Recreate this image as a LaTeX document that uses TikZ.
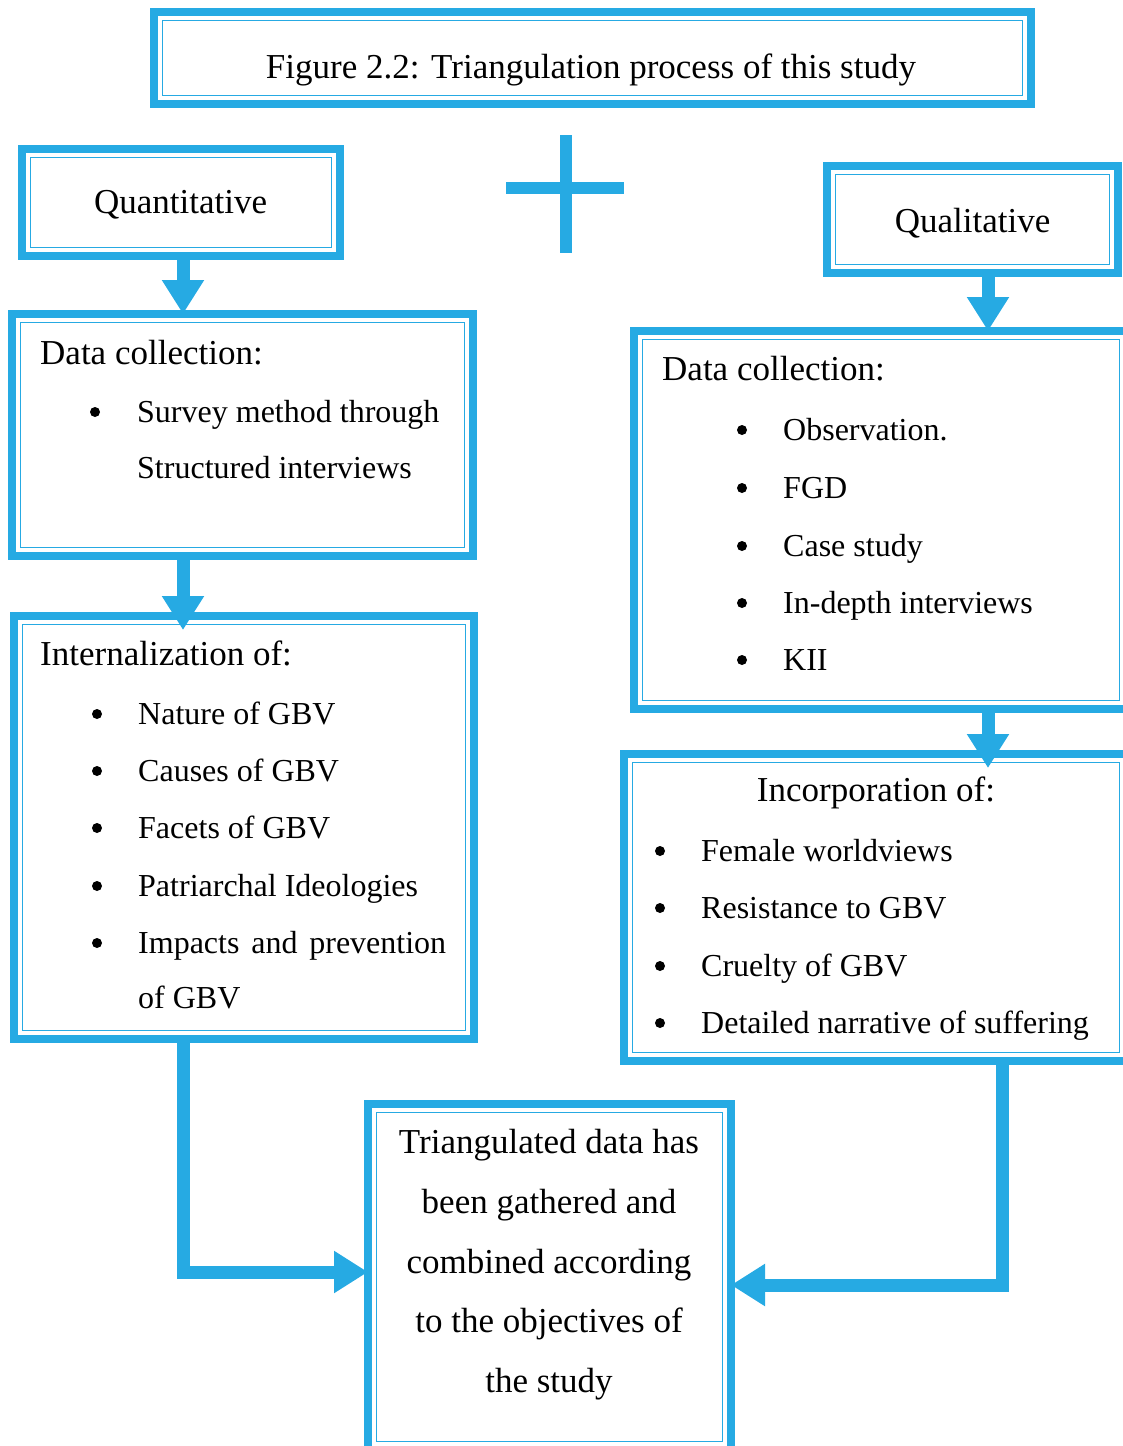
\documentclass[tikz,border=0pt]{standalone}
\usepackage{fontspec}
\setmainfont{Liberation Serif}
\usetikzlibrary{arrows.meta}
\definecolor{gbvblue}{RGB}{38,170,227}
\tikzset{
  box/.style={draw=gbvblue, line width=8pt, inner sep=0pt, outer sep=0pt},
  innerline/.style={draw=gbvblue, line width=1.8pt},
  flow/.style={draw=gbvblue, line width=13pt, line join=miter, -{Triangle[width=40pt,length=34pt]}},
  plusbar/.style={draw=gbvblue, line width=12pt},
  txt/.style={anchor=base west, inner sep=0pt},
  ctxt/.style={anchor=base, inner sep=0pt},
  head/.style={font=\fontsize{35}{40}\selectfont},
  dot/.style={circle, fill=black, inner sep=0pt, minimum size=10pt}
}

\begin{document}
\begin{tikzpicture}[x=1pt, y=-1pt, font=\fontsize{32}{38}\selectfont]
\useasboundingbox (0,0) rectangle (1122,1446);

% frames
\node[box, minimum width=877pt, minimum height=92pt] (ttl) at (592.5,58) {};
\node[box, minimum width=318pt, minimum height=107pt] (qnt) at (181,202.5) {};
\node[box, minimum width=291pt, minimum height=107pt] (qlt) at (972.5,219.5) {};
\node[box, minimum width=461pt, minimum height=242pt] (dcl) at (242.5,435) {};
\node[box, minimum width=460pt, minimum height=423pt] (int) at (244,827.5) {};
\node[box, minimum width=494pt, minimum height=378pt] (dcr) at (881,520) {};
\node[box, minimum width=504pt, minimum height=307pt] (inc) at (876,907.5) {};
\node[box, minimum width=363pt, minimum height=346pt] (tri) at (549.5,1277) {};

% thin inner frames
\foreach \n in {ttl,qnt,qlt,dcl,int,dcr,inc,tri}
  \draw[innerline] ([xshift=8.5pt,yshift=-8.5pt]\n.north west) rectangle ([xshift=-8.5pt,yshift=8.5pt]\n.south east);

% headings
\node[ctxt, head] (ttltext) at (591,78) {Figure 2.2: Triangulation process of this study};
\node[ctxt, head] (qnttext) at (180.5,213) {Quantitative};
\node[ctxt, head] (qlttext) at (972.5,232) {Qualitative};

% quantitative side
\node[txt, head] (dclhead) at (40,364) {Data collection:};
\node[dot] (dclb1) at (95,412) {};
\node[txt] (dcl1) at (137,422) {Survey method through};
\node[txt] (dcl2) at (137,478) {Structured interviews};

\node[txt, head] (inthead) at (40,665) {Internalization of:};
\foreach \y/\t [count=\i] in {724/Nature of GBV, 781/Causes of GBV, 838/Facets of GBV,
    896/Patriarchal Ideologies, 953/{\makebox[308pt][s]{Impacts and prevention}}} {
  \node[dot] (intb\i) at (97,\y-10) {};
  \node[txt] (int\i) at (138,\y) {\t};
}
\node[txt] (int6) at (138,1008) {of GBV};

% qualitative side
\node[txt, head] (dcrhead) at (662,380) {Data collection:};
\foreach \y/\t [count=\i] in {440/Observation., 498/FGD, 556/Case study,
    613/In-depth interviews, 670/KII} {
  \node[dot] (dcrb\i) at (742,\y-10) {};
  \node[txt] (dcr\i) at (783,\y) {\t};
}

\node[ctxt, head] (inchead) at (876,801) {Incorporation of:};
\foreach \y/\t [count=\i] in {861/Female worldviews, 918/Resistance to GBV,
    976/Cruelty of GBV, 1033/Detailed narrative of suffering} {
  \node[dot] (incb\i) at (660,\y-10) {};
  \node[txt] (inc\i) at (701,\y) {\t};
}

% result
\foreach \y/\t [count=\i] in {1153/Triangulated data has, 1213/been gathered and,
    1273/combined according, 1332/to the objectives of, 1392/the study}
  \node[ctxt, head] (tri\i) at (549,\y) {\t};

% plus sign
\draw[plusbar] (566,135) -- (566,253);
\draw[plusbar] (506,188) -- (624,188);

% arrows
\coordinate (lx) at (183,0);
\coordinate (rx) at (988,0);
\coordinate (rxb) at (1002,0);
\coordinate (ly) at (0,1272);
\coordinate (ry) at (0,1285);
\draw[flow] (qnt.south -| lx) -- (lx |- dcl.north);
\draw[flow, shorten >=-14pt] (dcl.south -| lx) -- (lx |- int.north);
\draw[flow] (qlt.south -| rx) -- (rx |- dcr.north);
\draw[flow, shorten >=-14pt] (dcr.south -| rx) -- (rx |- inc.north);
\draw[flow] (int.south -| lx) -- (lx |- ly) -- (ly -| tri.west);
\draw[flow] (inc.south -| rxb) -- (rxb |- ry) -- (ry -| tri.east);
\end{tikzpicture}
\end{document}
